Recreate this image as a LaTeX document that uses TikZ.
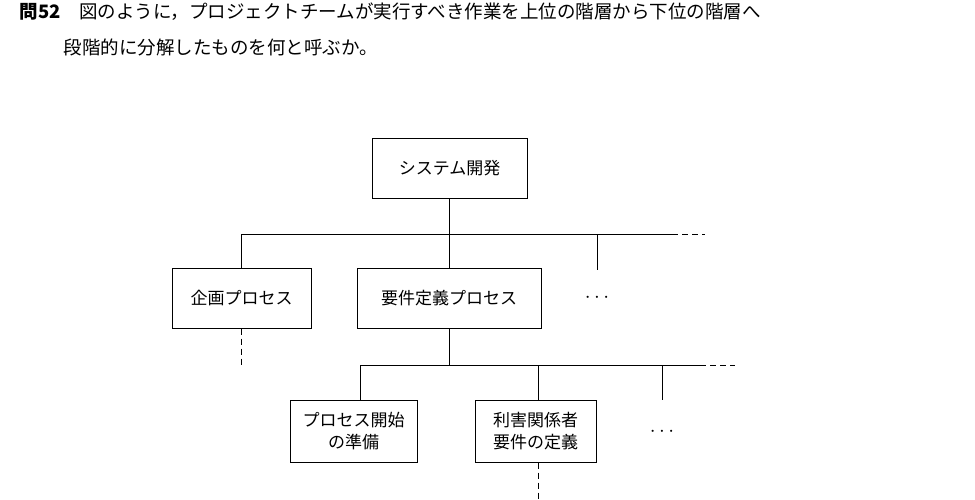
\documentclass[tikz,border=0pt]{standalone}
\usepackage{fontspec}
\newfontfamily\cjk{Noto Sans CJK JP}
\begin{document}
\begin{tikzpicture}[x=1pt,y=-1pt,
  box/.style={draw,line width=1pt,inner sep=0pt,align=center,font=\cjk\fontsize{17}{22}\selectfont},
  ln/.style={line width=0.9pt},
  dl/.style={line width=0.9pt,dash pattern=on 6pt off 4pt}]
\useasboundingbox (0,0) rectangle (975,500);
\node[anchor=west,font=\cjk\fontsize{18.5}{20}\selectfont] (t1) at (16,12) {\textbf{問52}\quad 図のように，プロジェクトチームが実行すべき作業を上位の階層から下位の階層へ};
\node[anchor=west,font=\cjk\fontsize{18.5}{20}\selectfont] (t2) at (60,47) {段階的に分解したものを何と呼ぶか。};
\node[box,minimum width=155pt,minimum height=60pt] (sys) at (449.5,168.5) {システム開発};
\node[box,minimum width=139pt,minimum height=60pt] (kik) at (241.5,298) {企画プロセス};
\node[box,minimum width=184pt,minimum height=60pt] (yok) at (449,298) {要件定義プロセス};
\node[font=\huge] (d1) at (597,298) {$\cdots$};
\node[box,minimum width=127pt,minimum height=62pt] (pro) at (353.5,431) {プロセス開始\\の準備};
\node[box,minimum width=121pt,minimum height=62pt] (rig) at (535.5,431) {利害関係者\\要件の定義};
\node[font=\huge] (d2) at (662,432) {$\cdots$};
\coordinate (j1) at (449,234);
\coordinate (a1) at (241,234);
\coordinate (b1) at (672,234);
\coordinate (c1) at (705,234);
\coordinate (e1) at (597,234);
\coordinate (e1b) at (597,270);
\coordinate (k2) at (241,366);
\coordinate (j2) at (449,365);
\coordinate (a2) at (360,365);
\coordinate (m2) at (538,365);
\coordinate (b2) at (700,365);
\coordinate (c2) at (735,365);
\coordinate (e2) at (662,365);
\coordinate (e2b) at (662,400);
\coordinate (r2) at (538,500);
\draw[ln] (j1 |- sys.south) -- (j1);
\draw[ln] (a1) -- (b1);
\draw[dl] (b1) -- (c1);
\draw[ln] (a1) -- (a1 |- kik.north);
\draw[ln] (j1) -- (j1 |- yok.north);
\draw[ln] (e1) -- (e1b);
\draw[dl] (k2 |- kik.south) -- (k2);
\draw[ln] (j2 |- yok.south) -- (j2);
\draw[ln] (a2) -- (b2);
\draw[dl] (b2) -- (c2);
\draw[ln] (a2) -- (a2 |- pro.north);
\draw[ln] (m2) -- (m2 |- rig.north);
\draw[ln] (e2) -- (e2b);
\draw[dl] (m2 |- rig.south) -- (r2);
\end{tikzpicture}
\end{document}
